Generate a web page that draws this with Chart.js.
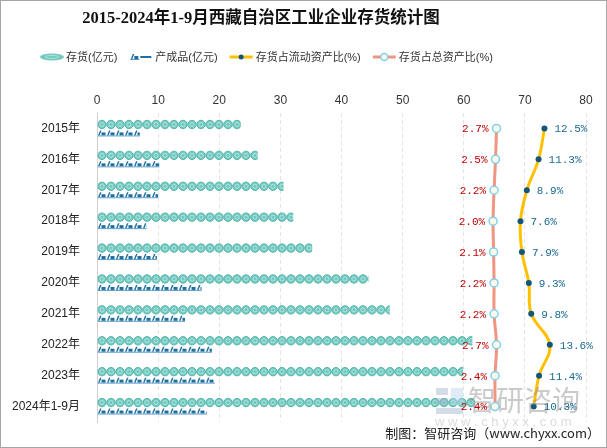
<!DOCTYPE html>
<html>
<head>
<meta charset="utf-8">
<script src="https://cdn.jsdelivr.net/npm/chart.js@4.4.1/dist/chart.umd.min.js"></script>
<style>
html, body { margin: 0; padding: 0; background: #fff; }
#wrap { width: 607px; height: 448px; box-sizing: border-box; border: 1px solid #a6a6a6; }
canvas { display: block; }
</style>
</head>
<body>
<div id="wrap"><canvas id="chart" width="605" height="446"></canvas></div>
<script>
// chart data
const categories = ['2015年', '2016年', '2017年', '2018年', '2019年', '2020年', '2021年', '2022年', '2023年', '2024年1-9月'];
const inventory = [23.5, 26.3, 30.5, 32.1, 35.2, 44.4, 47.9, 61.4, 59.9, 61.8];
const finishedGoods = [7.0, 10.2, 10.0, 8.1, 9.8, 17.1, 14.4, 18.8, 19.3, 18.0];
const ratioCurrent = [12.5, 11.3, 8.9, 7.6, 7.9, 9.3, 9.8, 13.6, 11.4, 10.3];
const ratioTotal = [2.7, 2.5, 2.2, 2.0, 2.1, 2.2, 2.2, 2.7, 2.4, 2.4];
const xTicks = [0, 10, 20, 30, 40, 50, 60, 70, 80];

const seriesNames = ['存货(亿元)', '产成品(亿元)', '存货占流动资产比(%)', '存货占总资产比(%)'];
const titleText = '2015-2024年1-9月西藏自治区工业企业存货统计图';

const FONT = '"Liberation Sans", "Noto Sans CJK SC", sans-serif';
const MONO = '"Liberation Mono", "Noto Sans CJK SC", monospace';

const TEAL = '#72c9c0';
const BLUE = '#1e6f9f';
const GOLD = '#FFC000';
const SALMON = '#EF9580';

function drawCoin(ctx, cx, cy, r) {
    ctx.beginPath();
    ctx.arc(cx, cy, r, 0, Math.PI * 2);
    ctx.fillStyle = TEAL;
    ctx.fill();
    ctx.lineWidth = 1;
    ctx.strokeStyle = '#58b6ac';
    ctx.stroke();
    ctx.beginPath();
    ctx.arc(cx, cy, r * 0.5, 0, Math.PI * 2);
    ctx.strokeStyle = '#aee4dd';
    ctx.stroke();
}

function drawGoods(ctx, x, top) {
    ctx.fillStyle = BLUE;
    ctx.beginPath();
    ctx.moveTo(x + 0.5, top + 5);
    ctx.lineTo(x + 2.5, top);
    ctx.lineTo(x + 4, top);
    ctx.lineTo(x + 2, top + 5);
    ctx.closePath();
    ctx.fill();
    ctx.fillRect(x + 4, top + 2, 4, 3);
    ctx.fillStyle = '#5a9cc8';
    ctx.fillRect(x, top + 5, 9, 1);
}

// pictorial bars drawn from the bar elements laid out by chart.js
const pictorialBars = {
    id: 'pictorialBars',
    beforeDatasetsDraw(chart) {
        const ctx = chart.ctx;
        const a = chart.chartArea;
        [0, 1].forEach(di => {
            chart.getDatasetMeta(di).data.forEach(el => {
                const p = el.getProps(['x', 'y', 'base', 'height'], true);
                ctx.save();
                ctx.beginPath();
                ctx.rect(p.base, a.top, p.x - p.base, a.bottom - a.top);
                ctx.clip();
                if (di === 0) {
                    for (let px = p.base + 4.5; px - 4.5 < p.x; px += 9) drawCoin(ctx, px, p.y + 0.5, 4.2);
                } else {
                    for (let px = p.base; px < p.x; px += 9) drawGoods(ctx, px, p.y - 2.5);
                }
                ctx.restore();
            });
        });
    }
};

// title, legend, labels, watermark, source note
const decorations = {
    id: 'decorations',
    afterDatasetsDraw(chart) {
        const ctx = chart.ctx;
        ctx.save();
        // watermark
        ctx.globalAlpha = 0.45;
        ctx.fillStyle = '#9fb1cc';
        ctx.fillRect(435, 387, 12, 7);
        ctx.fillRect(435, 397, 12, 7);
        ctx.fillRect(435, 407, 27, 6);
        ctx.fillStyle = '#b9d3ea';
        ctx.fillRect(450, 387, 12, 17);
        ctx.fillStyle = '#8a8a8a';
        ctx.font = '28px "Noto Sans CJK SC", sans-serif';
        ctx.textBaseline = 'middle';
        ctx.textAlign = 'left';
        ctx.fillText('智研咨询', 467, 399);
        ctx.font = '13px ' + FONT;
        ctx.fillStyle = '#b0b0b0';
        ctx.fillText('w w w . c h y x x . c o m', 434, 421);
        ctx.restore();

        // point labels
        ctx.save();
        ctx.font = '11px ' + MONO;
        ctx.textBaseline = 'middle';
        chart.getDatasetMeta(2).data.forEach((el, i) => {
            ctx.fillStyle = '#1b6a93';
            ctx.textAlign = 'left';
            ctx.fillText(ratioCurrent[i].toFixed(1) + '%', el.x + 10, el.y + 1);
        });
        chart.getDatasetMeta(3).data.forEach((el, i) => {
            ctx.fillStyle = '#c00000';
            ctx.textAlign = 'right';
            ctx.fillText(ratioTotal[i].toFixed(1) + '%', el.x - 8, el.y + 1);
        });
        ctx.restore();
    },
    afterDraw(chart) {
        const ctx = chart.ctx;
        ctx.save();
        // title
        ctx.fillStyle = '#111';
        ctx.font = 'bold 16.5px "Liberation Serif", "Noto Sans CJK SC", serif';
        ctx.textAlign = 'center';
        ctx.textBaseline = 'middle';
        ctx.fillText(titleText, 260, 18);

        // legend
        ctx.font = '11px ' + FONT;
        ctx.textAlign = 'left';
        let x = 39;
        const ly = 56;
        seriesNames.forEach((name, i) => {
            if (i === 0) {
                ctx.beginPath();
                ctx.ellipse(x + 12, ly, 12, 3.5, 0, 0, Math.PI * 2);
                ctx.fillStyle = TEAL;
                ctx.fill();
                ctx.beginPath();
                ctx.ellipse(x + 12, ly, 7, 1.5, 0, 0, Math.PI * 2);
                ctx.strokeStyle = '#aee4dd';
                ctx.lineWidth = 1;
                ctx.stroke();
            } else if (i === 1) {
                drawGoods(ctx, x + 1, ly - 3);
                ctx.fillStyle = BLUE;
                ctx.fillRect(x + 11, ly - 1, 11, 2);
            } else {
                ctx.strokeStyle = i === 2 ? GOLD : SALMON;
                ctx.lineWidth = 3;
                ctx.beginPath();
                ctx.moveTo(x, ly);
                ctx.lineTo(x + 23, ly);
                ctx.stroke();
                ctx.beginPath();
                if (i === 2) {
                    ctx.arc(x + 11.5, ly, 2.5, 0, Math.PI * 2);
                    ctx.fillStyle = '#14567a';
                    ctx.fill();
                } else {
                    ctx.arc(x + 11.5, ly, 3.5, 0, Math.PI * 2);
                    ctx.fillStyle = '#fdfbe8';
                    ctx.fill();
                    ctx.lineWidth = 1.5;
                    ctx.strokeStyle = '#7fd0f0';
                    ctx.stroke();
                }
            }
            ctx.fillStyle = '#333';
            ctx.fillText(name, x + 26, ly + 1);
            x += 26 + ctx.measureText(name).width + 12;
        });

        // source note
        ctx.font = '13px "Noto Sans CJK SC", sans-serif';
        ctx.textAlign = 'right';
        ctx.fillStyle = '#222';
        ctx.fillText('制图：智研咨询（www.chyxx.com）', 599, 432);
        ctx.restore();
    }
};

const chart = new Chart(document.getElementById('chart'), {
    data: {
        labels: categories,
        datasets: [
            {
                type: 'bar',
                label: seriesNames[0],
                data: inventory,
                xAxisID: 'x',
                backgroundColor: 'rgba(0,0,0,0)',
                categoryPercentage: 0.58,
                barPercentage: 1
            },
            {
                type: 'bar',
                label: seriesNames[1],
                data: finishedGoods,
                xAxisID: 'x',
                backgroundColor: 'rgba(0,0,0,0)',
                categoryPercentage: 0.58,
                barPercentage: 1
            },
            {
                type: 'line',
                label: seriesNames[2],
                data: ratioCurrent,
                xAxisID: 'x2',
                borderColor: GOLD,
                borderWidth: 3,
                tension: 0.4,
                pointRadius: 3,
                pointBackgroundColor: '#14567a',
                pointBorderWidth: 0
            },
            {
                type: 'line',
                label: seriesNames[3],
                data: ratioTotal,
                xAxisID: 'x2',
                borderColor: SALMON,
                borderWidth: 3,
                tension: 0.4,
                pointRadius: 4,
                pointBackgroundColor: '#fdfbe8',
                pointBorderColor: '#7fd0f0',
                pointBorderWidth: 1.5
            }
        ]
    },
    options: {
        indexAxis: 'y',
        responsive: false,
        animation: false,
        devicePixelRatio: 1,
        layout: { padding: { top: 92, left: 0, right: 20, bottom: 25 } },
        plugins: {
            legend: { display: false },
            title: { display: false },
            tooltip: { enabled: false }
        },
        scales: {
            x: {
                position: 'top',
                min: 0,
                max: 80,
                afterBuildTicks: s => { s.ticks = xTicks.map(v => ({ value: v })); },
                afterFit: s => { s.height = 20; },
                ticks: { padding: 5, color: '#333', font: { size: 12, family: FONT } },
                grid: { color: '#e4e4e4', drawTicks: false },
                border: { display: false, dash: [4, 3] }
            },
            x2: {
                position: 'top',
                min: -79,
                max: 21,
                display: false
            },
            y: {
                afterFit: s => { s.width = 96; },
                ticks: { padding: 9, color: '#222', font: { size: 12, family: FONT } },
                grid: { display: false },
                border: { display: true, color: '#cfcfcf', width: 1 }
            }
        }
    },
    plugins: [pictorialBars, decorations]
});
</script>
</body>
</html>
